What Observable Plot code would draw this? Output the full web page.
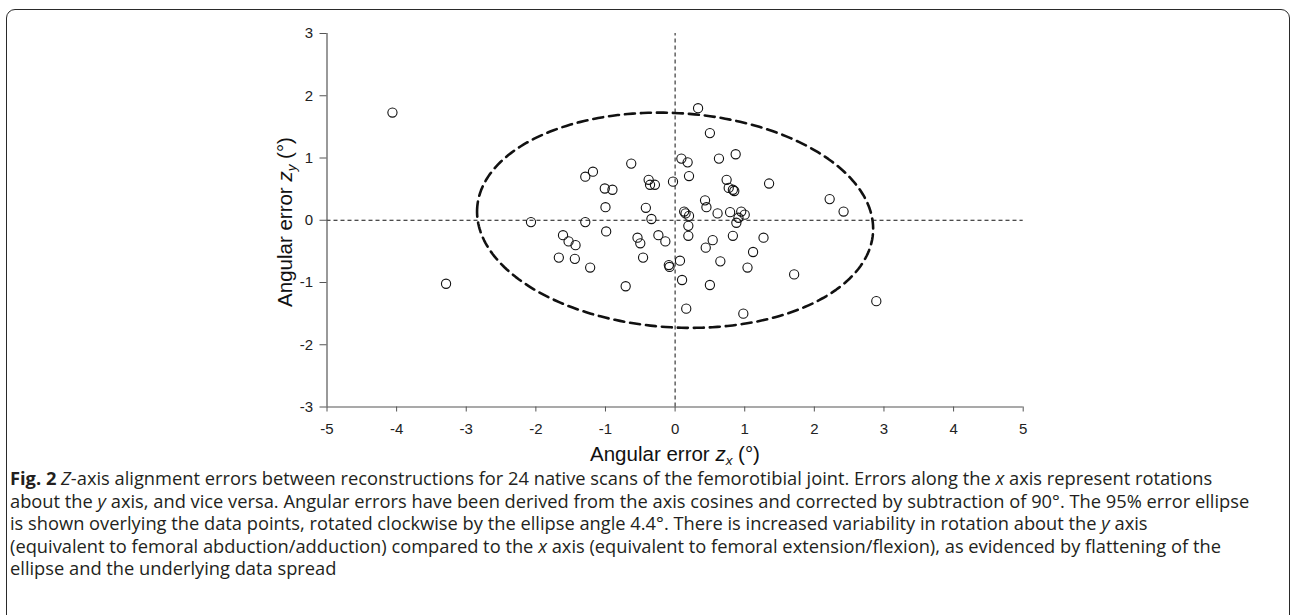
<!DOCTYPE html>
<html>
<head>
<meta charset="utf-8">
<script src="https://cdn.jsdelivr.net/npm/d3@7"></script>
<script src="https://cdn.jsdelivr.net/npm/@observablehq/plot@0.6"></script>
<style>
  html, body { margin: 0; padding: 0; background: #fff; }
  body { width: 1290px; height: 615px; position: relative; overflow: hidden; }
  #frame { position: absolute; left: 6px; top: 9px; width: 1284px; height: 700px;
           border: 1.6px solid #2a2a2a; border-radius: 9px; box-sizing: border-box; }
  #chart { position: absolute; left: 0; top: 0; }
  #caption { position: absolute; left: 10px; top: 470px; font-family: "Open Sans", sans-serif;
             font-size: 18.3px; color: #231f20; }
  #caption div { white-space: nowrap; height: 22.5px; line-height: 16px; }
  #caption b { font-weight: 700; }
</style>
</head>
<body>
<div id="frame"></div>
<div id="chart"></div>
<div id="caption">
  <div><b>Fig. 2</b> <i>Z</i>-axis alignment errors between reconstructions for 24 native scans of the femorotibial joint. Errors along the <i>x</i> axis represent rotations</div>
  <div>about the <i>y</i> axis, and vice versa. Angular errors have been derived from the axis cosines and corrected by subtraction of 90°. The 95% error ellipse</div>
  <div>is shown overlying the data points, rotated clockwise by the ellipse angle 4.4°. There is increased variability in rotation about the <i>y</i> axis</div>
  <div>(equivalent to femoral abduction/adduction) compared to the <i>x</i> axis (equivalent to femoral extension/flexion), as evidenced by flattening of the</div>
  <div>ellipse and the underlying data spread</div>
</div>
<script>
// Angular errors (degrees): z_x and z_y for each reconstruction pair
const zx = [
  -4.06, -3.29, -2.07, -0.63, -1.18, -1.29, -1.01, -0.90, -1.00, -1.29,
  -0.99, -0.38, -0.36, -0.29, -0.03, -0.42, -0.34, -1.61, -1.53, -1.43,
  -1.67, -1.44, -1.22, -0.54, -0.50, -0.24, -0.14, -0.46, -0.09, -0.08,
  -0.71,
  0.33, 0.50, 0.09, 0.18, 0.63, 0.87, 0.20, 0.74, 0.77, 0.83,
  0.85, 1.35, 2.22, 2.42, 0.43, 0.45, 0.61, 0.13, 0.15, 0.20,
  0.79, 0.95, 1.00, 0.91, 0.88, 0.19, 0.19, 0.83, 1.27, 0.54,
  0.44, 1.12, 0.65, 0.07, 1.04, 1.71, 0.10, 0.50, 0.16, 0.98,
  2.89
];
const zy = [
  1.73, -1.02, -0.03, 0.91, 0.78, 0.70, 0.51, 0.49, 0.21, -0.03,
  -0.18, 0.65, 0.57, 0.57, 0.62, 0.20, 0.02, -0.24, -0.34, -0.40,
  -0.60, -0.62, -0.76, -0.28, -0.37, -0.24, -0.34, -0.60, -0.72, -0.75,
  -1.06,
  1.80, 1.40, 0.99, 0.93, 0.99, 1.06, 0.71, 0.65, 0.52, 0.49,
  0.47, 0.59, 0.34, 0.14, 0.32, 0.21, 0.11, 0.14, 0.11, 0.07,
  0.13, 0.14, 0.09, 0.04, -0.04, -0.09, -0.25, -0.25, -0.28, -0.32,
  -0.44, -0.51, -0.66, -0.65, -0.76, -0.87, -0.96, -1.04, -1.42, -1.50,
  -1.30
];
const xTicks = [-5, -4, -3, -2, -1, 0, 1, 2, 3, 4, 5];
const yTicks = [-3, -2, -1, 0, 1, 2, 3];

// 95% error ellipse parameters (degrees)
const ellipseCenter = [0.0, 0.0];
const ellipseSemiX = 2.85;
const ellipseSemiY = 1.72;
const ellipseAngleDeg = 4.4; // clockwise

const points = zx.map((x, i) => ({x, y: zy[i]}));

const phi = ellipseAngleDeg * Math.PI / 180;
const ellipse = d3.range(0, 241).map(k => {
  const t = (k / 240) * 2 * Math.PI + Math.PI;
  const ca = Math.cos(t), sa = Math.sin(t);
  return {
    x: ellipseCenter[0] + ellipseSemiX * ca * Math.cos(phi) + ellipseSemiY * sa * Math.sin(phi),
    y: ellipseCenter[1] - ellipseSemiX * ca * Math.sin(phi) + ellipseSemiY * sa * Math.cos(phi)
  };
});

const axisColor = "#555";
const fmt = d => String(d).replace("\u2212", "-");
const chart = Plot.plot({
  width: 1290,
  height: 470,
  marginLeft: 326.5,
  marginRight: 267.3,
  marginTop: 33,
  marginBottom: 63.5,
  style: { fontFamily: "'Liberation Sans', Arial, sans-serif", fontSize: "15px", color: "#222", background: "transparent" },
  x: { domain: [-5, 5], ticks: xTicks, label: null },
  y: { domain: [-3, 3], ticks: yTicks, label: null },
  marks: [
    Plot.ruleX([0], { y1: -3, y2: 3, stroke: "#111", strokeWidth: 1, strokeDasharray: "4,3" }),
    Plot.ruleY([0], { x1: -5, x2: 5, stroke: "#111", strokeWidth: 1, strokeDasharray: "4,3" }),
    Plot.line(ellipse, { x: "x", y: "y", stroke: "#111", strokeWidth: 2.6, strokeDasharray: "10,6" }),
    Plot.dot(points, { x: "x", y: "y", r: 4.6, stroke: "#111", strokeWidth: 1.1, fill: "none" }),
    Plot.axisX({ ticks: xTicks, tickSize: 5, tickPadding: 11, stroke: axisColor, tickFormat: fmt, fill: "#222", label: null }),
    Plot.axisY({ ticks: yTicks, tickSize: 7, tickPadding: 7, stroke: axisColor, tickFormat: fmt, fill: "#222", label: null }),
    Plot.ruleX([-5], { y1: -3, y2: 3, stroke: axisColor, strokeWidth: 1.2 }),
    Plot.ruleY([-3], { x1: -5, x2: 5, stroke: axisColor, strokeWidth: 1.2 })
  ]
});
document.getElementById("chart").appendChild(chart);
// enforce tick label size
d3.select(chart).selectAll('g[aria-label="x-axis tick label"], g[aria-label="y-axis tick label"]')
  .attr("font-size", 15).style("font-size", "15px");

// Axis titles with italic variable and subscript
const svg = d3.select(chart);
const xt = svg.append("text")
  .attr("x", 675).attr("y", 460.5)
  .attr("text-anchor", "middle")
  .style("font-family", "'Liberation Sans', Arial, sans-serif")
  .style("font-size", "20.5px").attr("fill", "#111");
xt.append("tspan").text("Angular error ");
xt.append("tspan").attr("font-style", "italic").text("z");
xt.append("tspan").attr("font-style", "italic").attr("font-size", "13.5px").attr("dy", 4).text("x");
xt.append("tspan").attr("dy", -4).text(" (°)");

const yt = svg.append("text")
  .attr("transform", "translate(292,222) rotate(-90)")
  .attr("text-anchor", "middle")
  .style("font-family", "'Liberation Sans', Arial, sans-serif")
  .style("font-size", "20.5px").attr("fill", "#111");
yt.append("tspan").text("Angular error ");
yt.append("tspan").attr("font-style", "italic").text("z");
yt.append("tspan").attr("font-style", "italic").attr("font-size", "13.5px").attr("dy", 4).text("y");
yt.append("tspan").attr("dy", -4).text(" (°)");
</script>
</body>
</html>
